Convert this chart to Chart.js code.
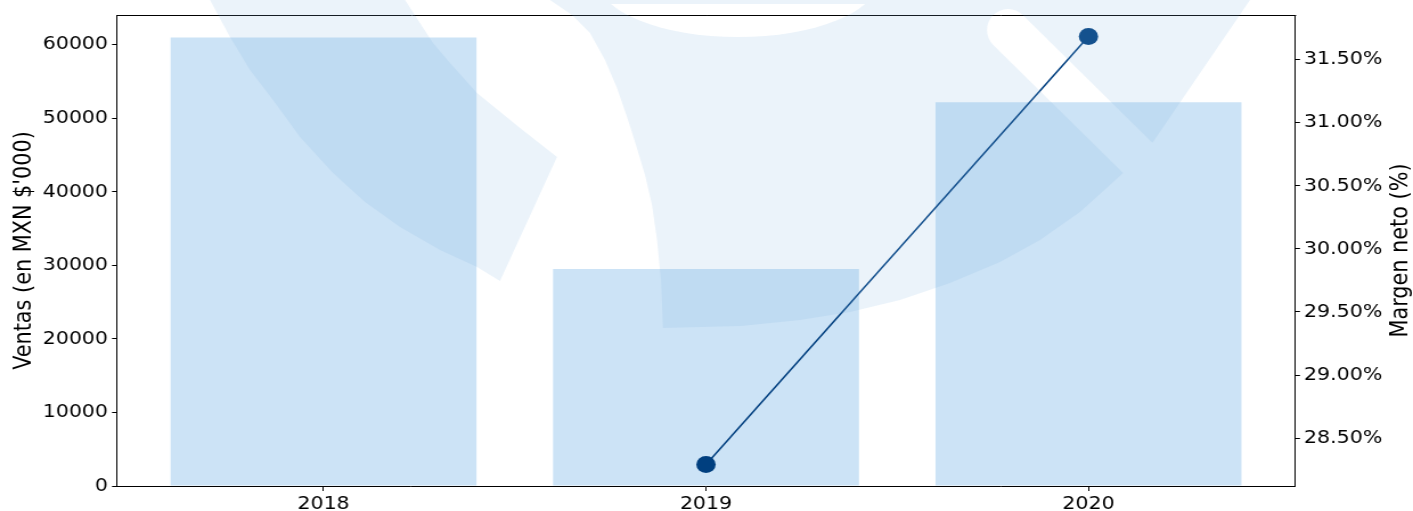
<!DOCTYPE html>
<html>
<head>
<meta charset="utf-8">
<script src="https://cdn.jsdelivr.net/npm/chart.js@4.4.1/dist/chart.umd.min.js"></script>
<style>
html,body{margin:0;padding:0;background:#fff;overflow:hidden}
</style>
</head>
<body>
<canvas id="c" width="1240" height="511" style="display:block;width:1413px;height:511px"></canvas>
<script>
// ---- data ----
const categories = ['2018', '2019', '2020'];
const ventas = [61000, 29500, 52200];
const margen = [null, 28.29, 31.685];
const ventasTicks = [0, 10000, 20000, 30000, 40000, 50000, 60000];
const margenTicks = [28.5, 29.0, 29.5, 30.0, 30.5, 31.0, 31.5];
const ventasRange = [0, 64050];
const margenRange = [28.12, 31.855];
const xRange = [-0.54, 2.54];
const leftTitle = "Ventas (en MXN $'000)";
const rightTitle = 'Margen neto (%)';

// ---- look ----
const DISPLAY_W = 1413;
const SX = DISPLAY_W / 1240;           // horizontal stretch of the picture
const FONT = 'DejaVu Sans';
const BAR_COLOR = '#cce3f6';
const LINE_COLOR = '#003f7f';

// decorative watermark logo (display pixel space)
const logoBand = [[205,-10],[210,0],[230,37],[250,70],[273,100],[300,137],[333,173],[365,202],[400,227],[440,250],[477,267],[500,281],[557,157],[520,128],[477,93],[450,63],[433,43],[418,20],[405,0],[398,-10]];
const logoCore = [[548,-10],[550,0],[572,15],[590,33],[605,60],[617,88],[627,117],[636,145],[645,175],[652,205],[657,240],[661,280],[663,328],[741,326],[800,320],[850,312],[900,300],[950,283],[1000,262],[1040,240],[1080,212],[1121,175],[1153,142],[1250,0],[1257,-10]];

const watermark = {
  id: 'watermark',
  afterDraw(chart) {
    const {ctx, width, height} = chart;
    const off = document.createElement('canvas');
    off.width = width; off.height = height;
    const o = off.getContext('2d');
    const k = width / DISPLAY_W;
    o.setTransform(k, 0, 0, 1, 0, 0);
    o.fillStyle = 'rgb(128,179,223)';
    [logoBand, logoCore].forEach(poly => {
      o.beginPath();
      poly.forEach(([x, y], i) => i ? o.lineTo(x, y) : o.moveTo(x, y));
      o.closePath();
      o.fill();
    });
    o.globalCompositeOperation = 'destination-out';
    o.save();
    o.beginPath(); o.rect(0, 4, DISPLAY_W, 300); o.clip();
    o.beginPath(); o.ellipse(738, -20, 140, 57, 0, 0, Math.PI * 2); o.fill();
    o.restore();
    o.strokeStyle = '#000';
    o.lineWidth = 42;
    o.lineCap = 'round';
    o.beginPath(); o.moveTo(1008, 30); o.lineTo(1008 + 0.712 * 260, 30 + 0.702 * 260); o.stroke();
    ctx.save();
    ctx.globalAlpha = 0.157;
    ctx.drawImage(off, 0, 0, width, height);
    ctx.restore();
  }
};

const frameTop = {
  id: 'frameTop',
  beforeDatasetsDraw(chart) {
    const {ctx, chartArea} = chart;
    ctx.save();
    ctx.strokeStyle = '#000';
    ctx.lineWidth = 1;
    ctx.beginPath();
    ctx.moveTo(chartArea.left, Math.round(chartArea.top) + 0.5);
    ctx.lineTo(chartArea.right + 1, Math.round(chartArea.top) + 0.5);
    ctx.stroke();
    ctx.restore();
  }
};

const rightAxisTitle = {
  id: 'rightAxisTitle',
  afterDraw(chart) {
    const s = chart.scales.y1;
    const {ctx, chartArea} = chart;
    ctx.save();
    ctx.translate(s.right - 12 / SX, (chartArea.top + chartArea.bottom) / 2);
    ctx.rotate(-Math.PI / 2);
    ctx.font = '20.8px "' + FONT + '"';
    ctx.fillStyle = '#000';
    ctx.textAlign = 'center';
    ctx.textBaseline = 'middle';
    ctx.fillText(rightTitle, 0, 0);
    ctx.restore();
  }
};

const tickFont = {family: FONT, size: 18};

new Chart(document.getElementById('c'), {
  type: 'bar',
  data: {
    datasets: [
      {
        type: 'line',
        label: 'Margen neto',
        data: categories.map((c, i) => ({x: i, y: margen[i]})),
        xAxisID: 'x', yAxisID: 'y1',
        borderColor: LINE_COLOR, backgroundColor: LINE_COLOR,
        borderWidth: 1.5, pointRadius: 8.5, pointHoverRadius: 8.5, pointBorderWidth: 0,
        tension: 0, order: 0, spanGaps: false
      },
      {
        type: 'bar',
        label: 'Ventas',
        data: categories.map((c, i) => ({x: i, y: ventas[i]})),
        xAxisID: 'x', yAxisID: 'y',
        backgroundColor: BAR_COLOR, borderWidth: 0,
        barPercentage: 0.8, categoryPercentage: 1, order: 1
      }
    ]
  },
  options: {
    responsive: false,
    animation: false,
    devicePixelRatio: 1,
    layout: {padding: {top: 15, left: 0, right: 0, bottom: 0}},
    plugins: {legend: {display: false}, tooltip: {enabled: false}},
    scales: {
      x: {
        type: 'linear', position: 'bottom', min: xRange[0], max: xRange[1], offset: false,
        afterBuildTicks: s => { s.ticks = categories.map((c, i) => ({value: i})); },
        afterFit: s => { s.height = 25; },
        ticks: {callback: v => categories[v], autoSkip: false, maxRotation: 0, minRotation: 0, padding: 3, color: '#000', font: tickFont},
        grid: {drawOnChartArea: false, drawTicks: true, tickLength: 5, color: '#000', offset: false},
        border: {display: true, color: '#000', width: 1}
      },
      y: {
        type: 'linear', position: 'left', min: ventasRange[0], max: ventasRange[1],
        afterBuildTicks: s => { s.ticks = ventasTicks.map(v => ({value: v})); },
        afterFit: s => { s.width = 117 / SX; },
        ticks: {callback: v => String(v), padding: 4 / SX, color: '#000', font: tickFont},
        grid: {drawOnChartArea: false, drawTicks: true, tickLength: 5 / SX, color: '#000'},
        border: {display: true, color: '#000', width: 1},
        title: {display: true, text: leftTitle, color: '#000', font: {family: FONT, size: 20.8}, padding: {top: 9.5, bottom: 0}}
      },
      y1: {
        type: 'linear', position: 'right', min: margenRange[0], max: margenRange[1],
        afterBuildTicks: s => { s.ticks = margenTicks.map(v => ({value: v})); },
        afterFit: s => { s.width = (DISPLAY_W - 1295) / SX; },
        ticks: {callback: v => Number(v).toFixed(2) + '%', padding: 4 / SX, color: '#000', font: tickFont},
        grid: {drawOnChartArea: false, drawTicks: true, tickLength: 5 / SX, color: '#000'},
        border: {display: true, color: '#000', width: 1}
      }
    }
  },
  plugins: [frameTop, rightAxisTitle, watermark]
});
</script>
</body>
</html>
